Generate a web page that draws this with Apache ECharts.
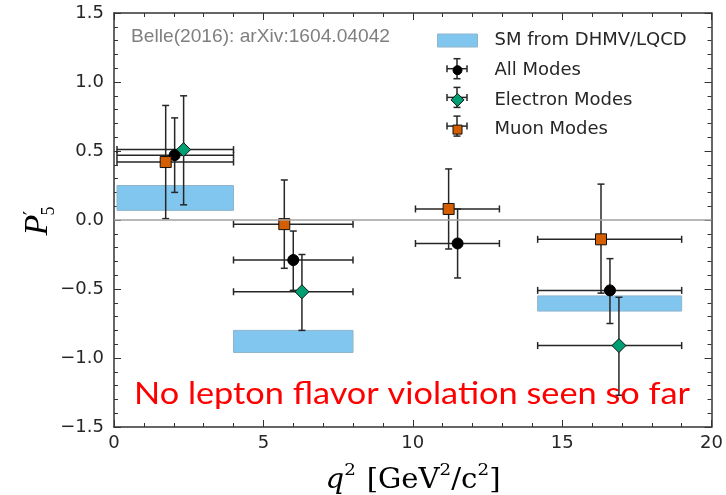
<!DOCTYPE html>
<html>
<head>
<meta charset="utf-8">
<script src="https://cdn.jsdelivr.net/npm/echarts@6/dist/echarts.min.js"></script>
<style>
  html, body { margin: 0; padding: 0; background: #ffffff; }
  #chart { width: 726px; height: 495px; }
</style>
</head>
<body>
<div id="chart"></div>
<script>
// q² bins of the measurement, GeV²/c²
const binLo = [0.10, 4.00, 10.09, 14.18];
const binHi = [4.00, 8.00, 12.90, 19.00];

// SM expectation bands (DHMV / LQCD), one per predicted bin
const smBinLo = [0.10, 4.00, 14.18];
const smBinHi = [4.00, 8.00, 19.00];
const smLow  = [0.07, -0.96, -0.66];
const smHigh = [0.25, -0.80, -0.55];

// All modes
const allX     = [2.03, 6.00, 11.50, 16.60];
const allY     = [0.47, -0.29, -0.17, -0.51];
const allErrUp = [0.27, 0.21, 0.25, 0.23];
const allErrDn = [0.27, 0.22, 0.25, 0.24];

// Electron modes (no point in the 10.09–12.90 bin)
const eBin     = [0, 1, 3];
const eX       = [2.33, 6.29, 16.90];
const eY       = [0.51, -0.52, -0.91];
const eErrUp   = [0.39, 0.27, 0.35];
const eErrDn   = [0.40, 0.28, 0.36];

// Muon modes
const muX      = [1.73, 5.70, 11.20, 16.30];
const muY      = [0.42, -0.03, 0.08, -0.14];
const muErrUp  = [0.41, 0.32, 0.29, 0.40];
const muErrDn  = [0.41, 0.32, 0.29, 0.39];

const legendNames = ['SM from DHMV/LQCD', 'All Modes', 'Electron Modes', 'Muon Modes'];
const sourceNote = 'Belle(2016): arXiv:1604.04042';
const headline = 'No lepton flavor violation seen so far';

// rows: [x, y, xLow, xHigh, yLow, yHigh]
function errorRows(xs, ys, up, dn, bins) {
  return xs.map((x, i) => {
    const b = bins ? bins[i] : i;
    return [x, ys[i], binLo[b], binHi[b], ys[i] - dn[i], ys[i] + up[i]];
  });
}
const allRows = errorRows(allX, allY, allErrUp, allErrDn);
const eRows   = errorRows(eX, eY, eErrUp, eErrDn, eBin);
const muRows  = errorRows(muX, muY, muErrUp, muErrDn);
const smRows  = smBinLo.map((x, i) => [x, smBinHi[i], smLow[i], smHigh[i]]);

const INK = '#262626';
const SM_FILL = '#80c6ee';

function errorBarItem(params, api) {
  const x = api.value(0), y = api.value(1);
  const c = api.coord([x, y]);
  const l = api.coord([api.value(2), y]);
  const r = api.coord([api.value(3), y]);
  const b = api.coord([x, api.value(4)]);
  const t = api.coord([x, api.value(5)]);
  const cap = 3.5;
  const style = { stroke: INK, lineWidth: 1.5 };
  const seg = (x1, y1, x2, y2) => ({ type: 'line', shape: { x1, y1, x2, y2 }, style });
  return {
    type: 'group',
    children: [
      seg(l[0], c[1], r[0], c[1]),
      seg(l[0], c[1] - cap, l[0], c[1] + cap),
      seg(r[0], c[1] - cap, r[0], c[1] + cap),
      seg(c[0], t[1], c[0], b[1]),
      seg(c[0] - cap, t[1], c[0] + cap, t[1]),
      seg(c[0] - cap, b[1], c[0] + cap, b[1])
    ]
  };
}

function bandItem(params, api) {
  const p0 = api.coord([api.value(0), api.value(3)]);
  const p1 = api.coord([api.value(1), api.value(2)]);
  return {
    type: 'rect',
    shape: { x: p0[0], y: p0[1], width: p1[0] - p0[0], height: p1[1] - p0[1] },
    style: { fill: SM_FILL, stroke: '#8fb4cc', lineWidth: 1 }
  };
}

// Scale a one-line text so that it spans a given width
function fitScale(text, font, width) {
  const ctx = document.createElement('canvas').getContext('2d');
  ctx.font = font;
  return width / ctx.measureText(text).width;
}

const minus = v => (v < 0 ? '\u2212' : '') + Math.abs(v).toFixed(1);

const axisCommon = {
  type: 'value',
  axisLine: { show: true, onZero: false, lineStyle: { color: '#333', width: 1.5 } },
  axisTick: { show: true, inside: true, length: 7, lineStyle: { color: '#333', width: 1 } },
  minorTick: { show: true, splitNumber: 5, length: 4, lineStyle: { color: '#333', width: 1 } },
  splitLine: { show: false }
};

const tickFont = { fontFamily: 'DejaVu Sans', fontSize: 18, color: INK };

// Legend: icon paths padded to a 64×22 box so markers keep their own size
const BOX = 'M-32,-11M32,11';
const legendIcons = [
  'path://' + BOX + 'M-20,-6.5H20V6.5H-20Z',
  'path://' + BOX + 'M-4.5,0A4.5,4.5,0,1,1,4.5,0A4.5,4.5,0,1,1,-4.5,0Z',
  'path://' + BOX + 'M0,-6.5L6.5,0L0,6.5L-6.5,0Z',
  'path://' + BOX + 'M-4.5,-4.5H4.5V4.5H-4.5Z'
];
const legendTop = 29, legendRow = 22, legendGap = 6.7, legendCx = 457;
const legendCross = [];
[1, 2, 3].forEach(i => {
  const cy = legendTop + i * (legendRow + legendGap) + legendRow / 2;
  const h = 10, cap = 3.5;
  const st = { stroke: INK, lineWidth: 1.5 };
  [[legendCx - h, cy, legendCx + h, cy], [legendCx, cy - h, legendCx, cy + h],
   [legendCx - h, cy - cap, legendCx - h, cy + cap], [legendCx + h, cy - cap, legendCx + h, cy + cap],
   [legendCx - cap, cy - h, legendCx + cap, cy - h], [legendCx - cap, cy + h, legendCx + cap, cy + h]]
    .forEach(s => legendCross.push({ type: 'line', z: 1, silent: true,
      shape: { x1: s[0], y1: s[1], x2: s[2], y2: s[3] }, style: st }));
});

const noteFont = '19px "Liberation Sans"';
const headFont = '30px Lato';

const option = {
  backgroundColor: '#ffffff',
  animation: false,
  grid: { left: 114, right: 12, top: 13, bottom: 68 },
  xAxis: [
    Object.assign({}, axisCommon, {
      min: 0, max: 20, interval: 5, position: 'bottom',
      axisLabel: Object.assign({ margin: 7 }, tickFont)
    }),
    Object.assign({}, axisCommon, {
      min: 0, max: 20, interval: 5, position: 'top', axisLabel: { show: false }
    })
  ],
  yAxis: [
    Object.assign({}, axisCommon, {
      min: -1.5, max: 1.5, interval: 0.5, position: 'left',
      axisLabel: Object.assign({ margin: 10, formatter: minus }, tickFont)
    }),
    Object.assign({}, axisCommon, {
      min: -1.5, max: 1.5, interval: 0.5, position: 'right', axisLabel: { show: false }
    })
  ],
  legend: {
    orient: 'vertical', left: 425, top: legendTop, padding: 0, z: 10,
    itemWidth: 64, itemHeight: legendRow, itemGap: legendGap,
    selectedMode: false,
    textStyle: { fontFamily: 'DejaVu Sans', fontSize: 18, color: INK },
    data: [
      { name: legendNames[0], icon: legendIcons[0], itemStyle: { color: SM_FILL, borderColor: '#8fb4cc', borderWidth: 1 } },
      { name: legendNames[1], icon: legendIcons[1], itemStyle: { color: '#000000', borderColor: '#000000', borderWidth: 1 } },
      { name: legendNames[2], icon: legendIcons[2], itemStyle: { color: '#009e73', borderColor: '#111111', borderWidth: 1 } },
      { name: legendNames[3], icon: legendIcons[3], itemStyle: { color: '#d55e00', borderColor: '#111111', borderWidth: 1 } }
    ]
  },
  series: [
    {
      name: legendNames[0], type: 'custom', renderItem: bandItem, data: smRows,
      encode: { x: [0, 1], y: [2, 3] }, z: 1, silent: true,
      itemStyle: { color: SM_FILL },
      markLine: {
        silent: true, symbol: 'none', label: { show: false },
        lineStyle: { color: '#a0a0a0', width: 1.5, type: 'solid' },
        data: [{ yAxis: 0 }]
      }
    },
    { name: 'all-err', type: 'custom', renderItem: errorBarItem, data: allRows, encode: { x: 0, y: 1 }, z: 2, silent: true },
    { name: 'e-err', type: 'custom', renderItem: errorBarItem, data: eRows, encode: { x: 0, y: 1 }, z: 2, silent: true },
    { name: 'mu-err', type: 'custom', renderItem: errorBarItem, data: muRows, encode: { x: 0, y: 1 }, z: 2, silent: true },
    {
      name: legendNames[1], type: 'scatter', symbol: 'circle', symbolSize: 11, z: 3,
      itemStyle: { color: '#000000', borderColor: '#000000', borderWidth: 1, opacity: 1 },
      data: allX.map((x, i) => [x, allY[i]])
    },
    {
      name: legendNames[2], type: 'scatter', symbol: 'diamond', symbolSize: 14, z: 3,
      itemStyle: { color: '#009e73', borderColor: '#111111', borderWidth: 1, opacity: 1 },
      data: eX.map((x, i) => [x, eY[i]])
    },
    {
      name: legendNames[3], type: 'scatter', symbol: 'rect', symbolSize: 11, z: 3,
      itemStyle: { color: '#d55e00', borderColor: '#111111', borderWidth: 1, opacity: 1 },
      data: muX.map((x, i) => [x, muY[i]])
    }
  ],
  graphic: [
    ...legendCross,
    {
      type: 'text', x: 131, y: 37, z: 5, silent: true,
      scaleX: fitScale(sourceNote, noteFont, 259),
      style: { text: sourceNote, font: noteFont, fill: '#7f7f7f', align: 'left', verticalAlign: 'middle' }
    },
    {
      type: 'text', x: 134, y: 394, z: 20, silent: true,
      scaleX: fitScale(headline, headFont, 556),
      style: { text: headline, font: headFont, fill: '#ff0000', align: 'left', verticalAlign: 'middle' }
    },
    {
      // x-axis title: q² [GeV²/c²]
      type: 'text', x: 413, y: 478, z: 5, silent: true, scaleX: 1.08,
      style: {
        text: '{i|q}{s|2}{g| }{r|[GeV}{s|2}{r|/c}{s|2}{r|]}',
        align: 'center', verticalAlign: 'middle',
        rich: {
          i: { fontFamily: 'DejaVu Serif', fontStyle: 'italic', fontSize: 27, fill: '#000', lineHeight: 32, verticalAlign: 'bottom' },
          r: { fontFamily: 'DejaVu Serif', fontSize: 27, fill: '#000', lineHeight: 32, verticalAlign: 'bottom' },
          g: { fontFamily: 'DejaVu Serif', fontSize: 27, lineHeight: 32, width: 10 },
          s: { fontFamily: 'DejaVu Serif', fontSize: 17, fill: '#000', lineHeight: 20, verticalAlign: 'top' }
        }
      }
    },
    {
      // y-axis title: P′₅, rotated to read upwards
      type: 'group', x: 38, y: 225, rotation: Math.PI / 2, z: 5, silent: true,
      children: [
        { type: 'text', x: 0, y: 0, style: { text: 'P', fontFamily: 'Liberation Serif', fontStyle: 'italic', fontSize: 34, fill: '#000', align: 'center', verticalAlign: 'middle' } },
        { type: 'text', x: 12, y: -5, style: { text: '\u2032', fontFamily: 'DejaVu Serif', fontSize: 20, fill: '#000', align: 'center', verticalAlign: 'middle' } },
        { type: 'text', x: 14, y: 11, style: { text: '5', fontFamily: 'Liberation Serif', fontSize: 18, fill: '#000', align: 'center', verticalAlign: 'middle' } }
      ]
    }
  ]
};

const chart = echarts.init(document.getElementById('chart'), null, { renderer: 'canvas' });
chart.setOption(option);
</script>
</body>
</html>
